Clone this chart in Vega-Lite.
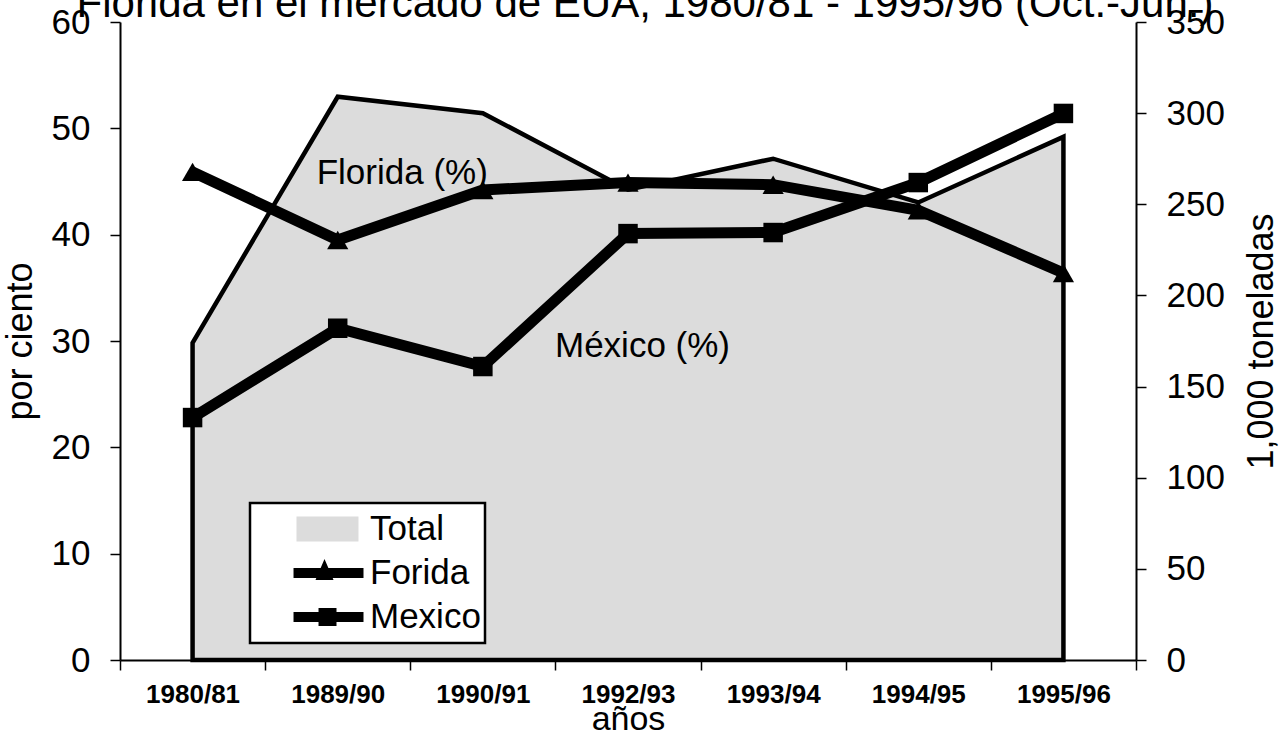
{
  "$schema": "https://vega.github.io/schema/vega-lite/v6.json",
  "width": 1016,
  "height": 638,
  "autosize": {"type": "none"},
  "padding": {"left": 120, "top": 22, "right": 147, "bottom": 81},
  "background": "white",
  "title": {
    "text": "Florida en el mercado de EUA, 1980/81 - 1995/96 (Oct.-Jun.)",
    "font": "Liberation Sans",
    "fontSize": 42,
    "fontWeight": "normal",
    "color": "black",
    "anchor": "middle",
    "baseline": "alphabetic",
    "offset": -54,
    "dx": 17
  },
  "config": {
    "view": {"stroke": null},
    "font": "Liberation Sans",
    "axis": {
      "domainColor": "black",
      "domainWidth": 2,
      "tickColor": "black",
      "tickWidth": 1.5,
      "tickSize": 10,
      "labelColor": "black",
      "labelFont": "Liberation Sans",
      "labelFontSize": 35,
      "labelPadding": 20,
      "titleColor": "black",
      "titleFont": "Liberation Sans",
      "titleFontSize": 36,
      "titleFontWeight": "normal",
      "grid": false
    },
    "legend": {"strokeWidth": 2.5}
  },
  "datasets": {
    "serie": [
      {"anio": "1980/81", "total": 174, "florida": 45.9, "mexico": 22.8},
      {"anio": "1989/90", "total": 309, "florida": 39.5, "mexico": 31.2},
      {"anio": "1990/91", "total": 300, "florida": 44.2, "mexico": 27.6},
      {"anio": "1992/93", "total": 258, "florida": 44.9, "mexico": 40.1},
      {"anio": "1993/94", "total": 275, "florida": 44.7, "mexico": 40.2},
      {"anio": "1994/95", "total": 251, "florida": 42.3, "mexico": 44.9},
      {"anio": "1995/96", "total": 287, "florida": 36.4, "mexico": 51.4}
    ],
    "leyenda": [
      {"serie": "Total"},
      {"serie": "Forida"},
      {"serie": "Mexico"}
    ]
  },
  "resolve": {"scale": {"y": "independent"}},
  "layer": [
    {
      "data": {"name": "serie"},
      "mark": {"type": "area", "fill": "#dcdcdc", "stroke": "black", "strokeWidth": 4.5, "strokeJoin": "miter"},
      "encoding": {
        "x": {
          "field": "anio", "type": "ordinal", "sort": null, "bandPosition": 0.5,
          "scale": {"type": "band", "paddingInner": 0, "paddingOuter": 0},
          "axis": {
            "title": "años",
            "labelFont": "Liberation Sans",
            "labelFontWeight": "bold",
            "labelFontSize": 26,
            "labelAngle": 0,
            "labelPadding": 11,
            "titleFontSize": 34,
            "titlePadding": -5,
            "tickBand": "extent"
          }
        },
        "y": {
          "field": "total", "type": "quantitative",
          "scale": {"domain": [0, 350], "nice": false},
          "axis": {
            "orient": "right",
            "values": [0, 50, 100, 150, 200, 250, 300, 350],
            "title": "1,000 toneladas",
            "titleAngle": 270,
            "titlePadding": 56
          }
        }
      }
    },
    {
      "layer": [
        {
          "data": {"name": "serie"},
          "mark": {"type": "line", "color": "black", "strokeWidth": 11, "strokeJoin": "miter",
                   "point": {"shape": "triangle-up", "size": 450, "filled": true, "color": "black"}},
          "encoding": {
            "x": {"field": "anio", "type": "ordinal", "sort": null, "bandPosition": 0.5,
                  "scale": {"type": "band", "paddingInner": 0, "paddingOuter": 0}},
            "y": {
              "field": "florida", "type": "quantitative",
              "scale": {"domain": [0, 60], "nice": false},
              "axis": {"orient": "left", "values": [0, 10, 20, 30, 40, 50, 60], "title": "por ciento", "titlePadding": 12}
            }
          }
        },
        {
          "data": {"name": "serie"},
          "mark": {"type": "line", "color": "black", "strokeWidth": 11, "strokeJoin": "miter",
                   "point": {"shape": "square", "size": 380, "filled": true, "color": "black"}},
          "encoding": {
            "x": {"field": "anio", "type": "ordinal", "sort": null, "bandPosition": 0.5,
                  "scale": {"type": "band", "paddingInner": 0, "paddingOuter": 0}},
            "y": {"field": "mexico", "type": "quantitative"}
          }
        },
        {
          "data": {"values": [{"anio": "1989/90", "pct": 45.8, "etiqueta": "Florida (%)"}]},
          "mark": {"type": "text", "align": "left", "baseline": "middle", "dx": -21, "fontSize": 35, "font": "Liberation Sans", "color": "black"},
          "encoding": {
            "x": {"field": "anio", "type": "ordinal", "sort": null, "bandPosition": 0.5},
            "y": {"field": "pct", "type": "quantitative"},
            "text": {"field": "etiqueta"}
          }
        },
        {
          "data": {"values": [{"anio": "1992/93", "pct": 29.5, "etiqueta": "México (%)"}]},
          "mark": {"type": "text", "align": "left", "baseline": "middle", "dx": -73, "fontSize": 35, "font": "Liberation Sans", "color": "black"},
          "encoding": {
            "x": {"field": "anio", "type": "ordinal", "sort": null, "bandPosition": 0.5},
            "y": {"field": "pct", "type": "quantitative"},
            "text": {"field": "etiqueta"}
          }
        },
        {
          "data": {"name": "leyenda"},
          "mark": {"type": "point", "filled": true, "size": 0, "stroke": "black", "strokeWidth": 2.5},
          "encoding": {
            "shape": {
              "field": "serie", "type": "nominal", "sort": ["Total", "Forida", "Mexico"],
              "scale": {
                "domain": ["Total", "Forida", "Mexico"],
                "range": [
                  "M-0.241,-0.231L0.907,-0.231L0.907,0.231L-0.241,0.231Z",
                  "M-0.296,-0.093L1,-0.093L1,0.093L-0.296,0.093Z M0.111,0.13L0.278,-0.26L0.445,0.13Z",
                  "M-0.296,-0.093L1,-0.093L1,0.093L-0.296,0.093Z M0.167,-0.167L0.5,-0.167L0.5,0.167L0.167,0.167Z"
                ]
              },
              "legend": {
                "orient": "none",
                "legendX": 130,
                "legendY": 481,
                "title": null,
                "fillColor": "white",
                "strokeColor": "black",
                "padding": 4,
                "rowPadding": 0,
                "clipHeight": 44,
                "labelFont": "Liberation Sans",
                "labelFontSize": 35,
                "labelColor": "black",
                "labelOffset": 5,
                "labelLimit": 0,
                "symbolSize": 11664,
                "symbolOpacity": 1,
                "symbolStrokeColor": "black",
                "symbolStrokeWidth": 2.5
              }
            },
            "fill": {
              "field": "serie", "type": "nominal", "sort": ["Total", "Forida", "Mexico"],
              "scale": {"domain": ["Total", "Forida", "Mexico"], "range": ["#dcdcdc", "black", "black"]},
              "legend": {
                "orient": "none",
                "legendX": 130,
                "legendY": 481,
                "title": null
              }
            }
          }
        }
      ]
    }
  ]
}
